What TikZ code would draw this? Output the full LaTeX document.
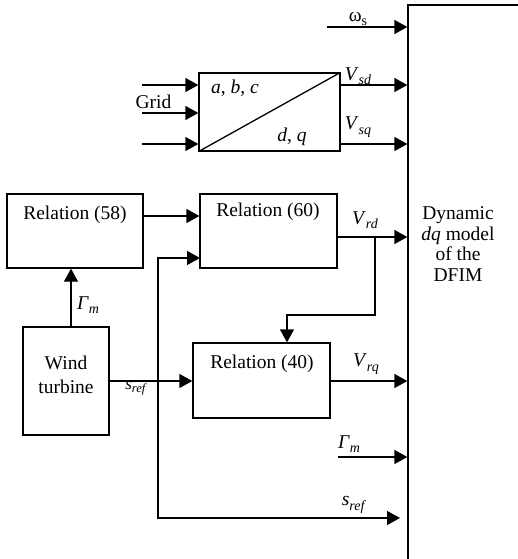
\documentclass[tikz,border=0pt]{standalone}
\usepackage{fontspec}
\setmainfont{Liberation Serif}
\usetikzlibrary{arrows.meta,calc}
\newcommand\lbl[2]{\textit{#1}\raisebox{-4.5pt}{\fontsize{14}{14}\selectfont\textit{#2}}}
\begin{document}
\begin{tikzpicture}[x=1pt,y=-1pt,
  line width=1.3pt,
  arr/.style={-{Triangle[length=13pt,width=14pt]}},
  blk/.style={draw,inner sep=0pt,minimum width=#1},
  txt/.style={inner sep=0pt,font=\fontsize{19.5}{22}\selectfont,align=center},
  small/.style={inner sep=0pt,font=\fontsize{17}{19}\selectfont}]
\useasboundingbox (0,0) rectangle (518,559);
% blocks
\node[blk=141pt,minimum height=78pt] (conv) at (269.5,112) {};
\node[blk=136pt,minimum height=74pt] (r58) at (75,231) {};
\node[blk=137pt,minimum height=74pt] (r60) at (268.5,231) {};
\node[blk=86pt,minimum height=108pt] (wt) at (66,381) {};
\node[blk=137pt,minimum height=75pt] (r40) at (261.5,380.5) {};
\node[blk=132pt,minimum height=575pt] (dfim) at (474,292.5) {};
% texts in blocks
\draw (conv.south west) -- (conv.north east);
\node[txt] (tabc) at (235,88) {\textit{a}, \textit{b}, \textit{c}};
\node[txt] (tdq) at (292,137) {\textit{d}, \textit{q}};
\node[txt] (t58) at (75,215) {Relation (58)};
\node[txt] (t60) at (268,212) {Relation (60)};
\node[txt] (t40) at (262,364) {Relation (40)};
\node[txt,font=\fontsize{19.5}{24}\selectfont] (twt) at (66,375) {Wind\\turbine};
\node[txt,font=\fontsize{19.5}{20.5}\selectfont] (tdf) at (458,244) {Dynamic\\\textit{dq} model\\of the\\DFIM};
% grid inputs
\coordinate (g1) at (142,85);
\coordinate (g2) at (142,113);
\coordinate (g3) at (142,144);
\draw[arr] (g1) -- (g1 -| conv.west);
\draw[arr] (g2) -- (g2 -| conv.west);
\draw[arr] (g3) -- (g3 -| conv.west);
\node[txt] (tgrid) at (153.5,102) {Grid};
% omega
\coordinate (om) at (327,27);
\draw[arr] (om) -- (om -| dfim.west);
\node[txt] (tom) at (358,19) {ω\raisebox{-4pt}{\fontsize{14}{14}\selectfont s}};
% Vsd, Vsq
\coordinate (vsd) at (340,85);
\coordinate (vsq) at (340,144);
\draw[arr] (vsd) -- (vsd -| dfim.west);
\draw[arr] (vsq) -- (vsq -| dfim.west);
\node[txt] (tvsd) at (358,76) {\lbl{V}{sd}};
\node[txt] (tvsq) at (358,127) {\lbl{V}{sq}};
% relation 58 -> 60
\coordinate (a58) at (143,216);
\draw[arr] (a58) -- (a58 -| r60.west);
% Gamma from wind turbine
\coordinate (gx) at (71,0);
\draw[arr] (wt.north -| gx) -- (r58.south -| gx);
\node[txt] (tg1) at (88,305) {\lbl{Γ}{m}};
% Vrd
\coordinate (vrd) at (337,237);
\coordinate (br) at (375,237);
\coordinate (brb) at (375,315);
\coordinate (brl) at (287,315);
\draw[arr] (vrd) -- (vrd -| dfim.west);
\draw[arr] (br) -- (brb) -- (brl) -- (brl |- r40.north);
\node[txt] (tvrd) at (365,220) {\lbl{V}{rd}};
% s_ref
\coordinate (sw) at (109,381);
\coordinate (jn) at (158,381);
\coordinate (i60) at (200,258);
\coordinate (send) at (400,518);
\draw[arr] (sw) -- (sw -| r40.west);
\draw[arr] (jn) |- (i60);
\draw[arr] (jn) |- (send);
\node[small] (tsr1) at (136,388) {\textit{s}\raisebox{-3pt}{\fontsize{12.5}{12}\selectfont\textit{ref}}};
\node[txt] (tsr2) at (354,505) {\lbl{s}{ref}};
% Vrq
\coordinate (vrq) at (330,381);
\draw[arr] (vrq) -- (vrq -| dfim.west);
\node[txt] (tvrq) at (366,364) {\lbl{V}{rq}};
% Gamma to DFIM
\coordinate (gm) at (338,457);
\draw[arr] (gm) -- (gm -| dfim.west);
\node[txt] (tg2) at (349,444) {\lbl{Γ}{m}};
\end{tikzpicture}
\end{document}
